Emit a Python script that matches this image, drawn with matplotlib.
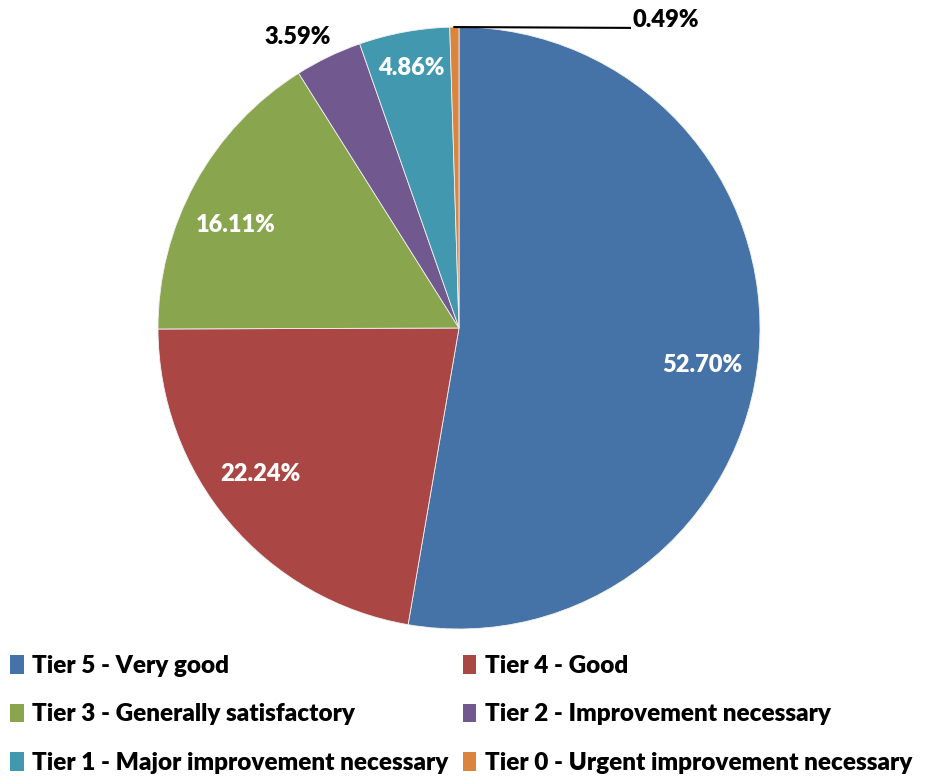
import matplotlib.pyplot as plt
import numpy as np

plt.rcParams['font.family'] = ['Lato', 'DejaVu Sans']
plt.rcParams['font.weight'] = 'heavy'

tiers = ["Tier 5 - Very good", "Tier 4 - Good", "Tier 3 - Generally satisfactory",
         "Tier 2 - Improvement necessary", "Tier 1 - Major improvement necessary",
         "Tier 0 - Urgent improvement necessary"]
shares = [52.70, 22.24, 16.11, 3.59, 4.86, 0.49]
colors = ["#4572A7", "#AA4643", "#89A54E", "#71588F", "#4198AF", "#DB843D"]

fig = plt.figure(figsize=(9.28, 7.76), dpi=100)
ax = fig.add_axes([158 / 928, 147 / 776, 602 / 928, 602 / 776])

wedges, _ = ax.pie(shares, colors=colors, startangle=90, counterclock=False,
                   radius=1.0, wedgeprops=dict(edgecolor="#f0f0f0", linewidth=0.6))
ax.set_xlim(-1, 1)
ax.set_ylim(-1, 1)
ax.set_aspect("equal")
ax.axis("off")

# label radius and angular nudge (degrees) per slice, roughly as in the original
label_r = [0.816, 0.817, 0.816, 1.105, 0.878, None]
nudge = [-3.8, -3.9, 4.0, 3.2, -0.2, 0]
for i, w in enumerate(wedges):
    txt = "%.2f%%" % shares[i]
    mid = np.deg2rad((w.theta1 + w.theta2) / 2 + nudge[i])
    if label_r[i] is None:
        x0, y0 = np.cos(mid), np.sin(mid)
        ax.plot([x0, 0.568], [y0, 0.997], color="black", lw=1.5, clip_on=False)
        ax.text(0.578, 1.023, txt, ha="left", va="center", fontsize=17,
                color="black", fontweight="heavy")
        continue
    x, y = label_r[i] * np.cos(mid), label_r[i] * np.sin(mid)
    col = "black" if label_r[i] > 1 else "white"
    ax.text(x, y, txt, ha="center", va="center", fontsize=17, color=col,
            fontweight="heavy")

order = [0, 2, 4, 1, 3, 5]
leg = fig.legend([wedges[i] for i in order], [tiers[i] for i in order],
                 loc="lower left", bbox_to_anchor=(0.011, 0.003), ncol=2,
                 frameon=False, fontsize=17.5, handlelength=0.55, handleheight=0.8,
                 handletextpad=0.35, columnspacing=0.6, labelspacing=1.08,
                 borderaxespad=0.0, borderpad=0.0)
for h in leg.legend_handles:
    h.set_edgecolor("none")

fig.savefig("out.png", dpi=100)
